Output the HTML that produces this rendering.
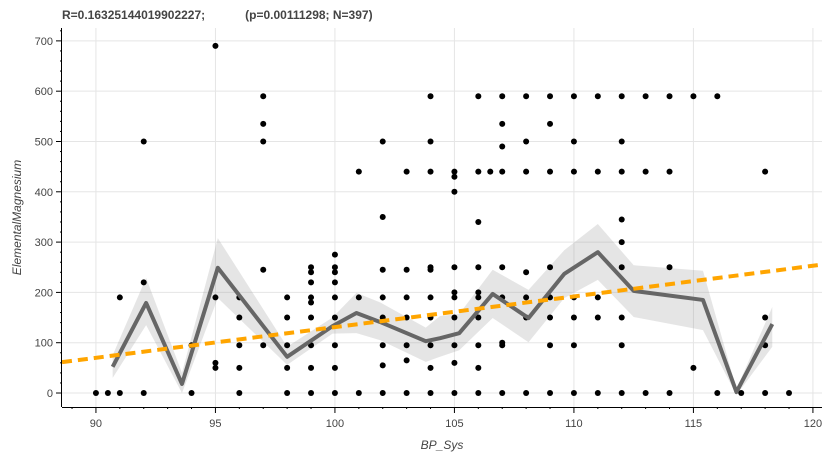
<!DOCTYPE html>
<html><head><meta charset="utf-8"><style>
body{margin:0;background:#fff;}
svg{display:block;font-family:"Liberation Sans",sans-serif;}
</style></head><body>
<svg id="chart" width="825" height="461" viewBox="0 0 825 461"></svg>
<script>
const ticksX=[90,95,100,105,110,115,120];
const ticksY=[0,100,200,300,400,500,600,700];
const pointsX=[90,90.5,91,91,92,92,92,94,94,95,95,95,95,96,96,96,96,96,97,97,97,97,97,98,98,98,98,98,
99,99,99,99,99,99,99,99,99,100,100,100,100,100,100,100,100,100,101,101,101,
102,102,102,102,102,102,102,102,103,103,103,103,103,103,103,
104,104,104,104,104,104,104,104,104,104,105,105,105,105,105,105,105,105,105,105,
106,106,106,106,106,106,106,106,106,106,106.5,107,107,107,107,107,107,107,107,107,
108,108,108,108,108,108,108,109,109,109,109,109,109,109,109,110,110,110,110,110,110,110,
111,111,111,111,111,112,112,112,112,112,112,112,112,112,113,113,113,114,114,114,114,115,115,116,116,117,118,118,118,118,119];
const pointsY=[0,0,0,190,0,220,500,0,95,690,190,60,50,0,190,150,95,50,590,535,500,245,95,0,190,150,95,50,
0,250,240,220,190,180,150,95,50,0,275,250,240,220,190,150,95,50,440,190,0,
500,350,245,190,150,95,55,0,440,245,190,150,95,65,0,
590,500,440,250,245,190,150,95,50,0,440,430,400,250,200,190,150,95,60,0,
590,440,340,250,200,190,150,95,50,0,440,590,535,490,440,250,190,100,95,0,
590,500,440,240,190,150,0,590,535,440,250,190,150,95,0,590,500,440,190,150,95,0,
590,440,190,150,0,590,500,440,345,300,250,150,95,0,590,440,0,590,440,250,0,590,50,590,0,0,440,150,95,0,0];
const meanX=[90.7,92.1,93.6,95.1,98,99.9,100.9,101.9,103.8,104.4,105.2,106.6,108.1,109.6,111,112.5,115.4,116.8,118.3];
const meanY=[52,179,18,249,72,133,159,141,103,109,119,197,149,237,280,203,185,2,137];
const bandUpper=[75,229,40,308,92,150,199,180,130,153,157,245,205,284,336,254,243,8,171];
const bandLower=[30,135,0,189,56,118,119,105,62,72,85,149,101,189,225,151,125,-4,92];
const regSlope=6.1, regIntercept=70;

const L=62,T=28,W=760,H=379,xMin=88.58,xMax=120.38,yMin=-27.8,yMax=725.6;
const sx=v=>L+(v-xMin)/(xMax-xMin)*W;
const sy=v=>T+H-(v-yMin)/(yMax-yMin)*H;
const svg=document.getElementById('chart');
const NS='http://www.w3.org/2000/svg';
function mk(tag,attrs,parent){const e=document.createElementNS(NS,tag);for(const k in attrs)e.setAttribute(k,attrs[k]);(parent||svg).appendChild(e);return e;}

const title=mk('text',{x:62,y:19,'font-size':12,'font-weight':'bold',fill:'#444',style:'white-space:pre'});


title.textContent='R=0.16325144019902227;            (p=0.00111298; N=397)';

const grid=mk('g',{});


ticksX.forEach(t=>mk('line',{x1:sx(t),x2:sx(t),y1:T,y2:T+H,stroke:'#e5e5e5'},grid));
ticksY.forEach(t=>mk('line',{x1:L,x2:L+W,y1:sy(t),y2:sy(t),stroke:'#e5e5e5'},grid));

let up='';
meanX.forEach((x,i)=>{up+=(i?'L':'M')+sx(x)+','+sy(bandUpper[i]);});
for(let i=meanX.length-1;i>=0;i--)up+='L'+sx(meanX[i])+','+sy(bandLower[i]);
const band=mk('path',{d:up+'Z',fill:'#999',opacity:0.25});



const dots=mk('g',{});


pointsX.forEach((x,i)=>{const c=mk('circle',{cx:sx(x),cy:sy(pointsY[i]),r:3,fill:'#000'},dots);

});

let md='';meanX.forEach((x,i)=>{md+=(i?'L':'M')+sx(x)+','+sy(meanY[i]);});
const mean=mk('path',{d:md,fill:'none',stroke:'#666',"stroke-width":4,"stroke-linejoin":'round'});



const reg=mk('line',{x1:sx(xMin),y1:sy(regIntercept+regSlope*(xMin-90)),x2:sx(xMax),y2:sy(regIntercept+regSlope*(xMax-90)),stroke:'orange','stroke-width':4,'stroke-dasharray':'10,6'});



const ax=mk('g',{});


mk('line',{x1:L,x2:L+W,y1:T+H+0.5,y2:T+H+0.5,stroke:'#000'},ax);
mk('line',{x1:L-0.5,x2:L-0.5,y1:T,y2:T+H,stroke:'#000'},ax);
for(let v=89;v<=120;v++){mk('line',{x1:sx(v),x2:sx(v),y1:T+H,y2:T+H+(v%5?2:6),stroke:'#000'},ax);}
for(let v=0;v<=720;v+=20){mk('line',{x1:L-(v%100?2:6),x2:L,y1:sy(v),y2:sy(v),stroke:'#000'},ax);}
ticksX.forEach(t=>{const e=mk('text',{x:sx(t),y:T+H+20,'font-size':11,'text-anchor':'middle',fill:'#444'},ax);e.textContent=t;});
ticksY.forEach(t=>{const e=mk('text',{x:L-9,y:sy(t)+4,'font-size':11,'text-anchor':'end',fill:'#444'},ax);e.textContent=t;});
const xl=mk('text',{x:L+W/2,y:449,'font-size':12,'font-style':'italic','text-anchor':'middle',fill:'#444'});


xl.textContent='BP_Sys';
const yl=mk('text',{x:0,y:0,'font-size':12,'font-style':'italic','text-anchor':'middle',fill:'#444',transform:'translate(21,'+(T+H/2)+') rotate(-90)'});


yl.textContent='ElementalMagnesium';
</script>
</body></html>
